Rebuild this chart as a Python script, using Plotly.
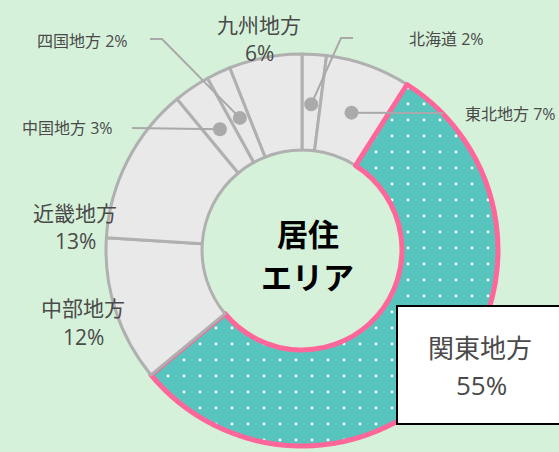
import math
import plotly.graph_objects as go

# ---- data ----
regions = ["北海道", "東北地方", "関東地方", "中部地方", "近畿地方", "中国地方", "四国地方", "九州地方"]
shares = [2, 7, 55, 12, 13, 3, 2, 6]
highlight = "関東地方"
center_title = ["居住", "エリア"]

# ---- layout constants (pixels) ----
W, H = 559, 452
CX, CY, R = 302, 250, 196
HOLE = 0.51
BG = "#d6f1d9"
GRAY_FILL = "#e9e9e9"
GRAY_LINE = "#b0b0b0"
TEAL = "#57c5bd"
PINK = "#ff6699"
TXT = "#4a4a4a"
FONT = "Open Sans, Noto Sans CJK JP, sans-serif"
FONT_B = "Noto Sans CJK JP, sans-serif"
LEAD = "#a9a9a9"


def px(x):
    return x / W


def py(y):
    return 1 - y / H


colors = [TEAL if r == highlight else GRAY_FILL for r in regions]
line_colors = [PINK if r == highlight else GRAY_LINE for r in regions]
line_widths = [5 if r == highlight else 3 for r in regions]
patterns = ["." if r == highlight else "" for r in regions]

fig = go.Figure()
fig.add_trace(go.Pie(
    labels=regions,
    values=shares,
    sort=False,
    direction="clockwise",
    rotation=0,
    hole=HOLE,
    textinfo="none",
    hoverinfo="skip",
    marker=dict(
        colors=colors,
        line=dict(color=line_colors, width=line_widths),
        pattern=dict(shape=patterns, fgcolor="white", bgcolor=colors,
                     fgopacity=1, size=16, solidity=0.025),
    ),
    domain=dict(x=[px(CX - R), px(CX + R)], y=[py(CY + R), py(CY - R)]),
))

# mid angles (degrees clockwise from 12 o'clock), computed from data
total = sum(shares)
mid = {}
acc = 0
for r, v in zip(regions, shares):
    mid[r] = (acc + v / 2) / total * 360
    acc += v


def dot_pos(region, rad=146):
    a = math.radians(mid[region])
    return CX + rad * math.sin(a), CY - rad * math.cos(a)


# leader lines: region -> list of elbow/end points (pixels), label anchor
leaders = {
    "北海道": ([(341, 38), (353, 38)], (407, 39, "left")),
    "東北地方": ([(443, 113)], (463, 114, "left")),
    "四国地方": ([(162, 39), (150, 39)], (130, 41, "right")),
    "中国地方": ([(132, 128)], (115, 128, "right")),
}

shapes = []
annotations = []
for reg, (pts, (lx, ly, anchor)) in leaders.items():
    dx, dy = dot_pos(reg)
    path = f"M{px(dx)},{py(dy)}" + "".join(f" L{px(x)},{py(y)}" for x, y in pts)
    shapes.append(dict(type="path", xref="paper", yref="paper", path=path,
                       line=dict(color=LEAD, width=2)))
    annotations.append(dict(x=px(lx), y=py(ly), xref="paper", yref="paper",
                            text=f"{reg} {shares[regions.index(reg)]}%", showarrow=False,
                            xanchor=anchor, yanchor="middle",
                            font=dict(family=FONT, size=16, color=TXT)))
for reg in leaders:
    dx, dy = dot_pos(reg)
    rr = 7
    shapes.append(dict(type="circle", xref="paper", yref="paper",
                       x0=px(dx - rr), x1=px(dx + rr), y0=py(dy + rr), y1=py(dy - rr),
                       fillcolor="#aaaaaa", line=dict(width=0)))

# large labels without leaders (two lines each)
big_labels = {
    "九州地方": (259, 25, 53),
    "近畿地方": (75, 213, 241),
    "中部地方": (83, 308, 337),
}
for reg, (lx, y1, y2) in big_labels.items():
    annotations.append(dict(x=px(lx), y=py(y1), xref="paper", yref="paper",
                            text=reg, showarrow=False, xanchor="center", yanchor="middle",
                            font=dict(family=FONT, size=21, color=TXT)))
    annotations.append(dict(x=px(lx), y=py(y2), xref="paper", yref="paper",
                            text=f"{shares[regions.index(reg)]}%", showarrow=False,
                            xanchor="center", yanchor="middle",
                            font=dict(family=FONT, size=21, color=TXT)))

# highlighted label box
shapes.append(dict(type="rect", xref="paper", yref="paper",
                   x0=px(397), x1=px(575), y0=py(424), y1=py(306),
                   fillcolor="white", line=dict(color="black", width=2)))
annotations.append(dict(x=px(480), y=py(348), xref="paper", yref="paper",
                        text=highlight, showarrow=False, xanchor="center", yanchor="middle",
                        font=dict(family=FONT, size=26, color=TXT)))
annotations.append(dict(x=px(481), y=py(385), xref="paper", yref="paper",
                        text=f"{shares[regions.index(highlight)]}%", showarrow=False,
                        xanchor="center", yanchor="middle",
                        font=dict(family=FONT, size=26, color=TXT)))

# center title
for t, yy in zip(center_title, [232, 275]):
    annotations.append(dict(x=px(CX + 6), y=py(yy), xref="paper", yref="paper",
                            text=f"<b>{t}</b>", showarrow=False,
                            xanchor="center", yanchor="middle", borderpad=0,
                            font=dict(family=FONT_B, size=31, color="black")))

fig.update_layout(
    width=W, height=H,
    margin=dict(l=0, r=0, t=0, b=0),
    paper_bgcolor=BG, plot_bgcolor=BG,
    showlegend=False,
    shapes=shapes,
    annotations=annotations,
)

fig.write_html("out.html", config={"displayModeBar": False},
               post_script="document.body.style.margin='0';document.body.style.padding='0';"
                           "document.body.style.overflow='hidden';")
